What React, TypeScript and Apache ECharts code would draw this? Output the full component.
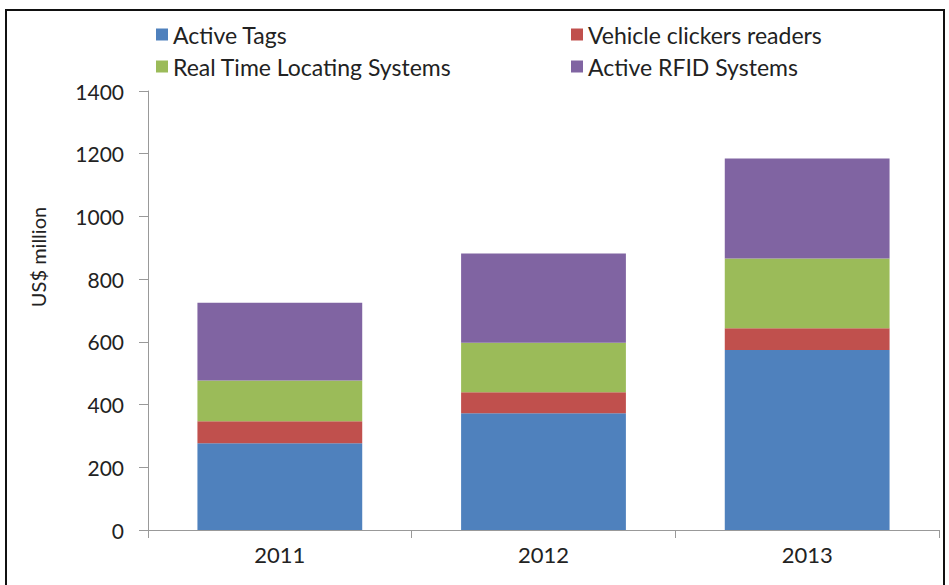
import React, { useEffect, useRef } from "react";
import * as echarts from "echarts";

const categories = ["2011", "2012", "2013"];
const activeTags = [277, 372, 574];
const vehicleReaders = [70, 67, 69];
const rtls = [130, 158, 223];
const activeRfid = [248, 285, 319];
const seriesNames = ["Active Tags", "Vehicle clickers readers", "Real Time Locating Systems", "Active RFID Systems"];
const colors = ["#4F81BD", "#C0504D", "#9BBB59", "#8064A2"];
const yTicks = { min: 0, max: 1400, interval: 200 };

export default function App() {
  const ref = useRef<HTMLDivElement>(null);
  useEffect(() => {
    if (!ref.current) return;
    const chart = echarts.init(ref.current, undefined, { renderer: "svg" });
    const values = [activeTags, vehicleReaders, rtls, activeRfid];
    const legendPos = [
      { left: 151, top: 18 },
      { left: 566, top: 18 },
      { left: 151, top: 50 },
      { left: 566, top: 50 },
    ];
    const font = "Lato, 'Open Sans', sans-serif";
    chart.setOption({
      animation: false,
      backgroundColor: "#ffffff",
      color: colors,
      legend: seriesNames.map((n, i) => ({
        data: [n],
        left: legendPos[i].left,
        top: legendPos[i].top,
        itemWidth: 12,
        itemHeight: 12,
        itemGap: 8,
        icon: "rect",
        textStyle: { fontSize: 23, color: "#222", fontFamily: font },
      })),
      grid: { left: 148, right: 10, top: 91, bottom: 55 },
      xAxis: {
        type: "category",
        data: categories,
        axisLine: { lineStyle: { color: "#999", width: 1 } },
        axisTick: { show: true, length: 8, lineStyle: { color: "#999" } },
        axisLabel: { fontSize: 22, color: "#222", margin: 13, fontFamily: font },
      },
      yAxis: {
        type: "value",
        min: yTicks.min,
        max: yTicks.max,
        interval: yTicks.interval,
        splitLine: { show: false },
        axisLine: { show: true, lineStyle: { color: "#999", width: 1 } },
        axisTick: { show: true, length: 9, lineStyle: { color: "#999" } },
        axisLabel: {
          fontSize: 21,
          color: "#222",
          margin: 24,
          fontFamily: font,
          formatter: (v: number) => String(v),
        },
      },
      graphic: [
        {
          type: "text",
          x: 38,
          y: 257,
          rotation: Math.PI / 2,
          style: {
            text: "US$ million",
            fontSize: 20,
            fill: "#222",
            fontFamily: font,
            align: "center",
            verticalAlign: "middle",
          },
        },
        {
          type: "rect",
          shape: { x: 6, y: 10, width: 938, height: 600 },
          style: { fill: "none", stroke: "#111", lineWidth: 2 },
          silent: true,
        },
      ],
      series: seriesNames.map((n, i) => ({
        name: n,
        type: "bar",
        stack: "total",
        barWidth: "62.5%",
        data: values[i],
        itemStyle: { color: colors[i] },
      })),
    });
    return () => chart.dispose();
  }, []);
  return (
    <div
      ref={ref}
      style={{ position: "fixed", left: 0, top: 0, width: 949, height: 585 }}
    />
  );
}
